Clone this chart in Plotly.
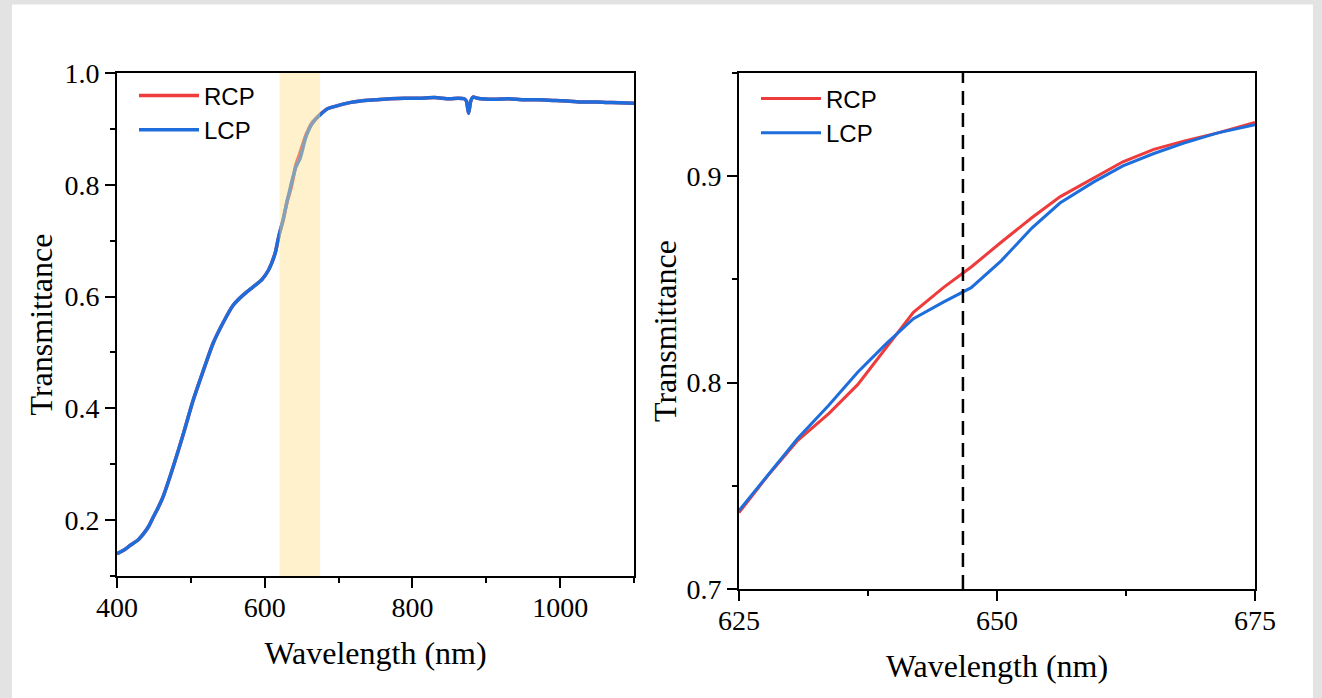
import plotly.graph_objects as go

# ---------------- data ----------------
# left panel: full spectrum (RCP and LCP coincide outside 625-675 nm)
WL_LOW = [400, 410, 418, 428, 436, 443, 449, 456, 463, 476, 490, 503, 517, 530, 544, 557, 571, 584,
          596, 605, 614, 617, 620]
T_LOW = [0.140, 0.147, 0.155, 0.164, 0.176, 0.189, 0.205, 0.223, 0.244, 0.295, 0.355, 0.414, 0.468,
         0.516, 0.554, 0.584, 0.603, 0.617, 0.630, 0.647, 0.677, 0.695, 0.713]

WL_HIGH = [685, 700, 715, 730, 750, 770, 790, 810, 830, 850, 862, 870, 873, 876, 879, 882, 888,
           910, 930, 950, 970, 990, 1010, 1030, 1050, 1070, 1100]
T_HIGH = [0.936, 0.942, 0.947, 0.950, 0.952, 0.954, 0.955, 0.955, 0.956, 0.954, 0.955, 0.954, 0.950,
          0.928, 0.950, 0.957, 0.955, 0.953, 0.954, 0.952, 0.952, 0.951, 0.950, 0.948, 0.948, 0.947, 0.946]

# right panel: zoom 625-675 nm
WL_ZOOM = [625.0, 627.8, 630.7, 633.7, 636.5, 639.3, 641.9, 644.8, 647.5, 650.4, 653.4, 656.1,
           659.3, 662.2, 665.2, 668.1, 671.4, 675.0]
T_RCP = [0.737, 0.755, 0.772, 0.785, 0.799, 0.817, 0.834, 0.846, 0.856, 0.868, 0.880, 0.890,
         0.899, 0.907, 0.913, 0.917, 0.921, 0.926]
T_LCP = [0.738, 0.755, 0.773, 0.789, 0.805, 0.819, 0.831, 0.839, 0.846, 0.859, 0.875, 0.887,
         0.897, 0.905, 0.911, 0.916, 0.921, 0.925]

BAND = [620, 675]          # highlighted wavelength band (nm)
MARK_WL = 646.7            # dashed marker wavelength (nm)
SERIES = ["RCP", "LCP"]
COLORS = {"RCP": "#ee3b3b", "LCP": "#1e6ddc"}

# ---------------- figure ----------------
W, H = 1322, 698
ML, MR, MT, MB = 117, 67, 72.5, 109
PW, PH = W - ML - MR, H - MT - MB

def px_x(p):
    return (p - ML) / PW

def px_y(p):
    return (H - MB - p) / PH

fig = go.Figure()

full = {
    "RCP": (WL_LOW + WL_ZOOM + WL_HIGH, T_LOW + T_RCP + T_HIGH),
    "LCP": (WL_LOW + WL_ZOOM + WL_HIGH, T_LOW + T_LCP + T_HIGH),
}
zoom = {"RCP": T_RCP, "LCP": T_LCP}

for s in SERIES:
    fig.add_trace(go.Scatter(x=full[s][0], y=full[s][1], mode="lines", name=s,
                             line=dict(color=COLORS[s], width=3.5, shape="spline", smoothing=0.6),
                             xaxis="x", yaxis="y", legend="legend"))
for s in SERIES:
    fig.add_trace(go.Scatter(x=WL_ZOOM, y=zoom[s], mode="lines", name=s,
                             line=dict(color=COLORS[s], width=3),
                             xaxis="x2", yaxis="y2", legend="legend2"))

fig.add_trace(go.Scatter(x=[MARK_WL, MARK_WL], y=[0.7, 0.95], mode="lines", showlegend=False,
                         line=dict(color="black", width=2.5, dash="14px,8px"),
                         xaxis="x2", yaxis="y2"))

# highlighted band drawn above the curves
fig.add_shape(type="rect", xref="x", yref="y domain", x0=BAND[0], x1=BAND[1], y0=0, y1=1,
              fillcolor="rgb(255,225,140)", opacity=0.45, line_width=0, layer="above")

# white panel on grey page
fig.add_shape(type="rect", xref="paper", yref="paper",
              x0=px_x(12), x1=px_x(1313), y0=px_y(698), y1=px_y(4),
              fillcolor="white", line_width=0, layer="below")

tick_font = dict(family="Liberation Serif", size=28, color="black")
title_font = dict(family="Liberation Serif", size=32, color="black")
legend_font = dict(family="Liberation Sans", size=24, color="black")

axis_common = dict(showline=True, linecolor="black", linewidth=2, mirror=True,
                   ticks="outside", ticklen=10, tickwidth=2, tickcolor="black",
                   showgrid=False, zeroline=False, tickfont=tick_font, automargin=False)
minor_common = dict(ticks="outside", ticklen=5, tickwidth=2, tickcolor="black", showgrid=False)

fig.update_layout(
    width=W, height=H,
    margin=dict(l=ML, r=MR, t=MT, b=MB),
    paper_bgcolor="#e3e3e3", plot_bgcolor="white",
    xaxis=dict(domain=[0, px_x(634)], range=[400, 1100], tick0=0, dtick=200,
               minor=dict(dtick=100, **minor_common), ticklabelstandoff=-5,
               title=dict(text="Wavelength (nm)", font=title_font, standoff=20),
               anchor="y", **axis_common),
    yaxis=dict(domain=[px_y(576), 1], range=[0.1, 1.0], tick0=0, dtick=0.2, tickformat=".1f",
               minor=dict(dtick=0.1, **minor_common),
               title=dict(text="Transmittance", font=title_font, standoff=2),
               anchor="x", **axis_common),
    xaxis2=dict(domain=[px_x(739), 1], range=[625, 675], tick0=625, dtick=25,
                minor=dict(dtick=12.5, **minor_common), ticklabelstandoff=-5,
                title=dict(text="Wavelength (nm)", font=title_font, standoff=20),
                anchor="y2", **axis_common),
    yaxis2=dict(domain=[0, 1], range=[0.7, 0.95], tick0=0, dtick=0.1, tickformat=".1f",
                minor=dict(dtick=0.05, **minor_common),
                title=dict(text="Transmittance", font=title_font, standoff=0),
                anchor="x2", **axis_common),
    legend=dict(x=px_x(134), y=px_y(73), xanchor="left", yanchor="top", xref="paper", yref="paper",
                font=legend_font, itemwidth=60,
                bgcolor="rgba(0,0,0,0)", borderwidth=0, tracegroupgap=0),
    legend2=dict(x=px_x(756), y=px_y(76), xanchor="left", yanchor="top", xref="paper", yref="paper",
                 font=legend_font, itemwidth=60,
                 bgcolor="rgba(0,0,0,0)", borderwidth=0, tracegroupgap=0),
)

fig.write_html("out.html")
